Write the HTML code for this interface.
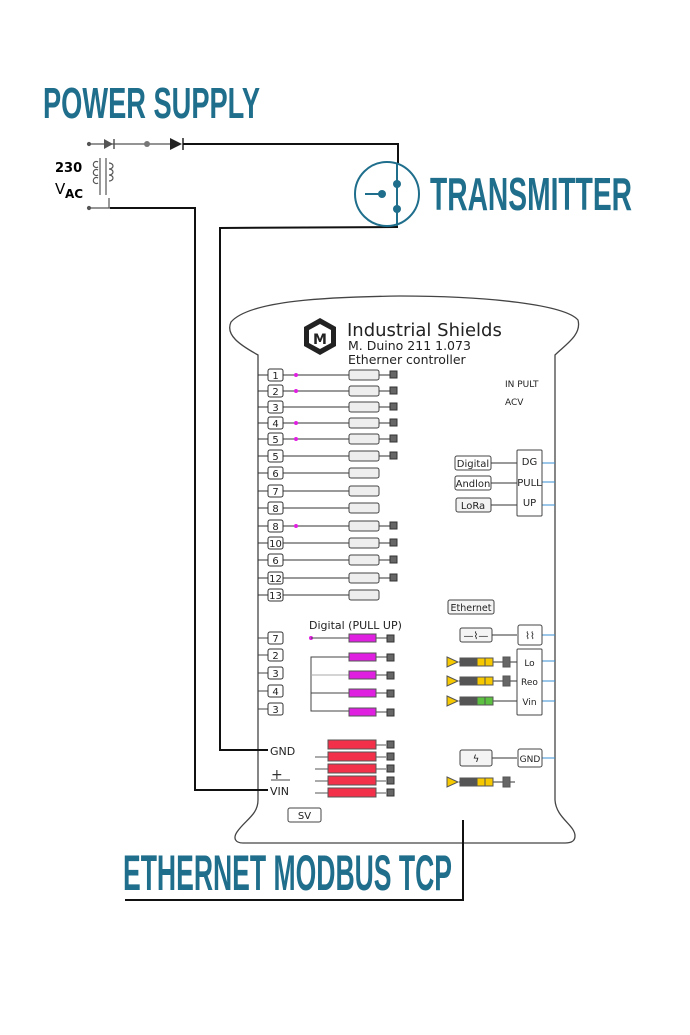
<!DOCTYPE html>
<html><head><meta charset="utf-8"><style>
html,body{margin:0;padding:0;background:#fff}
svg{display:block}
text{font-family:"DejaVu Sans","Liberation Sans",sans-serif}
.t{font-family:"Liberation Sans Narrow","Liberation Sans",sans-serif;font-weight:bold;fill:#1f6e8c}
</style></head><body>
<svg width="690" height="1035" viewBox="0 0 690 1035" xmlns="http://www.w3.org/2000/svg">
<rect width="690" height="1035" fill="#fff"/>
<text class="t" x="43" y="118" font-size="44" textLength="217" lengthAdjust="spacingAndGlyphs">POWER SUPPLY</text>
<text class="t" x="430" y="210" font-size="46" textLength="202" lengthAdjust="spacingAndGlyphs">TRANSMITTER</text>
<text class="t" x="123" y="890" font-size="50" textLength="329" lengthAdjust="spacingAndGlyphs">ETHERNET MODBUS TCP</text>

<!-- body -->
<path d="M258 355 C240 345 225 335 231 322 C250 300 330 297 400 296 C490 296 565 305 578 320 C582 335 565 345 555 355 L555 800 C556 818 575 825 575 836 C575 842 570 843 565 843 L243 843 C235 843 233 838 237 832 C245 820 258 815 258 800 Z" fill="#fff" stroke="#444" stroke-width="1.3"/>

<!-- power supply -->
<g stroke="#555" fill="none" stroke-width="1.2">
<line x1="89" y1="144" x2="170" y2="144"/>
<circle cx="89" cy="144" r="1.5" fill="#555"/>
<circle cx="89" cy="208" r="1.5" fill="#555"/>
<line x1="89" y1="208" x2="110" y2="208"/>
<line x1="109" y1="198" x2="109" y2="208"/>
<line x1="100" y1="158" x2="100" y2="195"/><line x1="106" y1="158" x2="106" y2="195"/>
<path d="M98 167 a3 3 0 1 1 0-5 M98 175 a3 3 0 1 1 0-5 M98 183 a3 3 0 1 1 0-5"/>
<path d="M109 163 a4 3 0 1 1 0 6 a4 3 0 1 1 0 6 a4 3 0 1 1 0 6"/>
</g>
<polygon points="104,139 113,144 104,149" fill="#555"/><line x1="114" y1="139" x2="114" y2="149" stroke="#555" stroke-width="1.5"/>
<circle cx="147" cy="144" r="3" fill="#777"/>
<polygon points="170,138 182,144 170,150" fill="#222"/><line x1="183" y1="138" x2="183" y2="150" stroke="#222" stroke-width="1.5"/>
<text x="55" y="172" font-size="13" font-weight="bold" font-family="Liberation Sans">230</text>
<text x="55" y="194" font-size="15" font-family="Liberation Sans">V</text><text x="65" y="198" font-size="12" font-family="Liberation Sans" font-weight="bold">AC</text>

<g stroke="#111" fill="none" stroke-width="2">
<polyline points="183,144 398,144 398,163"/>
<polyline points="398,227 220,228 220,750 268,750"/>
<polyline points="110,208 195,208 195,790 268,790"/>
<polyline points="125,900 463,900 463,820"/>
</g>
<!-- transmitter -->
<circle cx="387" cy="194" r="32" fill="#fff" stroke="#1f6e8c" stroke-width="2"/>
<line x1="397" y1="163" x2="397" y2="226" stroke="#1f6e8c" stroke-width="2"/>
<circle cx="397" cy="184" r="4" fill="#1f6e8c"/><circle cx="397" cy="209" r="4" fill="#1f6e8c"/>
<line x1="365" y1="194" x2="382" y2="194" stroke="#1f6e8c" stroke-width="2"/><circle cx="382" cy="194" r="4" fill="#1f6e8c"/>

<!-- logo -->
<polygon points="320,318 336,327 336,346 320,355 304,346 304,327" fill="#222"/>
<polygon points="320,324 331,330 331,343 320,349 309,343 309,330" fill="#fff"/>
<text x="320" y="344" font-size="14" font-weight="bold" text-anchor="middle" fill="#222">M</text>
<text x="347" y="336" font-size="18" fill="#222">Industrial Shields</text>
<text x="348" y="350" font-size="12.5" fill="#222">M. Duino 211 1.073</text>
<text x="348" y="364" font-size="12.5" fill="#222">Etherner controller</text>
<text x="505" y="387" font-size="9" fill="#222">IN PULT</text>
<text x="505" y="405" font-size="9" fill="#222">ACV</text>

<g font-size="10" fill="#222" text-anchor="middle" stroke-width="1">
<g stroke="#333">
<line x1="258" y1="375" x2="349" y2="375"/><line x1="258" y1="391" x2="349" y2="391"/><line x1="258" y1="407" x2="349" y2="407"/><line x1="258" y1="423" x2="349" y2="423"/><line x1="258" y1="439" x2="349" y2="439"/><line x1="258" y1="456" x2="349" y2="456"/><line x1="258" y1="473" x2="349" y2="473"/><line x1="258" y1="491" x2="349" y2="491"/><line x1="258" y1="508" x2="349" y2="508"/><line x1="258" y1="526" x2="349" y2="526"/><line x1="258" y1="543" x2="349" y2="543"/><line x1="258" y1="560" x2="349" y2="560"/><line x1="258" y1="578" x2="349" y2="578"/><line x1="258" y1="595" x2="349" y2="595"/>
<line x1="379" y1="375" x2="391" y2="375"/><line x1="379" y1="391" x2="391" y2="391"/><line x1="379" y1="407" x2="391" y2="407"/><line x1="379" y1="423" x2="391" y2="423"/><line x1="379" y1="439" x2="391" y2="439"/><line x1="379" y1="456" x2="391" y2="456"/><line x1="379" y1="526" x2="391" y2="526"/><line x1="379" y1="543" x2="391" y2="543"/><line x1="379" y1="560" x2="391" y2="560"/><line x1="379" y1="578" x2="391" y2="578"/>
</g>
<g fill="#fff" stroke="#333">
<rect x="268" y="369" width="15" height="12" rx="2"/><rect x="268" y="385" width="15" height="12" rx="2"/><rect x="268" y="401" width="15" height="12" rx="2"/><rect x="268" y="417" width="15" height="12" rx="2"/><rect x="268" y="433" width="15" height="12" rx="2"/><rect x="268" y="450" width="15" height="12" rx="2"/><rect x="268" y="467" width="15" height="12" rx="2"/><rect x="268" y="485" width="15" height="12" rx="2"/><rect x="268" y="502" width="15" height="12" rx="2"/><rect x="268" y="520" width="15" height="12" rx="2"/><rect x="268" y="537" width="15" height="12" rx="2"/><rect x="268" y="554" width="15" height="12" rx="2"/><rect x="268" y="572" width="15" height="12" rx="2"/><rect x="268" y="589" width="15" height="12" rx="2"/>
</g>
<g fill="#eee" stroke="#444">
<rect x="349" y="370" width="30" height="10" rx="2"/><rect x="349" y="386" width="30" height="10" rx="2"/><rect x="349" y="402" width="30" height="10" rx="2"/><rect x="349" y="418" width="30" height="10" rx="2"/><rect x="349" y="434" width="30" height="10" rx="2"/><rect x="349" y="451" width="30" height="10" rx="2"/><rect x="349" y="468" width="30" height="10" rx="2"/><rect x="349" y="486" width="30" height="10" rx="2"/><rect x="349" y="503" width="30" height="10" rx="2"/><rect x="349" y="521" width="30" height="10" rx="2"/><rect x="349" y="538" width="30" height="10" rx="2"/><rect x="349" y="555" width="30" height="10" rx="2"/><rect x="349" y="573" width="30" height="10" rx="2"/><rect x="349" y="590" width="30" height="10" rx="2"/>
</g>
<g fill="#666" stroke="#333">
<rect x="390" y="371" width="7" height="7"/><rect x="390" y="387" width="7" height="7"/><rect x="390" y="403" width="7" height="7"/><rect x="390" y="419" width="7" height="7"/><rect x="390" y="435" width="7" height="7"/><rect x="390" y="452" width="7" height="7"/><rect x="390" y="522" width="7" height="7"/><rect x="390" y="539" width="7" height="7"/><rect x="390" y="556" width="7" height="7"/><rect x="390" y="574" width="7" height="7"/>
</g>
<g fill="#e020e0"><circle cx="296" cy="375" r="2"/><circle cx="296" cy="391" r="2"/><circle cx="296" cy="423" r="2"/><circle cx="296" cy="439" r="2"/><circle cx="296" cy="526" r="2"/><circle cx="311" cy="638" r="2"/></g>
<text x="275.5" y="379">1</text><text x="275.5" y="395">2</text><text x="275.5" y="411">3</text><text x="275.5" y="427">4</text><text x="275.5" y="443">5</text><text x="275.5" y="460">5</text><text x="275.5" y="477">6</text><text x="275.5" y="495">7</text><text x="275.5" y="512">8</text><text x="275.5" y="530">8</text><text x="275.5" y="547">10</text><text x="275.5" y="564">6</text><text x="275.5" y="582">12</text><text x="275.5" y="599">13</text>
</g>

<!-- digital pull up -->
<text x="309" y="629" font-size="11" fill="#222">Digital (PULL UP)</text>
<g stroke="#444" fill="none">
<line x1="258" y1="638" x2="268" y2="638"/><line x1="258" y1="655" x2="268" y2="655"/><line x1="258" y1="673" x2="268" y2="673"/><line x1="258" y1="691" x2="268" y2="691"/><line x1="258" y1="709" x2="268" y2="709"/>
<line x1="311" y1="638" x2="349" y2="638"/>
<polyline points="349,657 311,657 311,711 349,711"/><line x1="311" y1="693" x2="349" y2="693"/><line x1="311" y1="675" x2="349" y2="675" stroke="#aaa"/>
<line x1="376" y1="638" x2="388" y2="638"/><line x1="376" y1="657" x2="388" y2="657"/><line x1="376" y1="675" x2="388" y2="675"/><line x1="376" y1="693" x2="388" y2="693"/><line x1="376" y1="712" x2="388" y2="712"/>
</g>
<g fill="#fff" stroke="#333"><rect x="268" y="632" width="15" height="12" rx="2"/><rect x="268" y="649" width="15" height="12" rx="2"/><rect x="268" y="667" width="15" height="12" rx="2"/><rect x="268" y="685" width="15" height="12" rx="2"/><rect x="268" y="703" width="15" height="12" rx="2"/></g>
<g font-size="10" text-anchor="middle" fill="#222"><text x="275.5" y="642">7</text><text x="275.5" y="659">2</text><text x="275.5" y="677">3</text><text x="275.5" y="695">4</text><text x="275.5" y="713">3</text></g>
<g fill="#e020e0" stroke="#555"><rect x="349" y="634" width="27" height="8"/><rect x="349" y="653" width="27" height="8"/><rect x="349" y="671" width="27" height="8"/><rect x="349" y="689" width="27" height="8"/><rect x="349" y="708" width="27" height="8"/></g>
<g fill="#666" stroke="#333"><rect x="387" y="635" width="7" height="7"/><rect x="387" y="654" width="7" height="7"/><rect x="387" y="672" width="7" height="7"/><rect x="387" y="690" width="7" height="7"/><rect x="387" y="709" width="7" height="7"/></g>

<!-- power -->
<text x="270" y="755" font-size="11" fill="#222">GND</text>
<text x="271" y="779" font-size="14" fill="#333">+</text><line x1="271" y1="780" x2="290" y2="780" stroke="#444"/>
<text x="270" y="795" font-size="11" fill="#222">VIN</text>
<g stroke="#555"><line x1="315" y1="757" x2="328" y2="757"/><line x1="315" y1="769" x2="328" y2="769"/><line x1="315" y1="781" x2="328" y2="781"/><line x1="315" y1="793" x2="328" y2="793"/>
<line x1="376" y1="745" x2="386" y2="745"/><line x1="376" y1="757" x2="386" y2="757"/><line x1="376" y1="769" x2="386" y2="769"/><line x1="376" y1="781" x2="386" y2="781"/><line x1="376" y1="793" x2="386" y2="793"/></g>
<g fill="#f2304a" stroke="#555"><rect x="328" y="740" width="48" height="9"/><rect x="328" y="752" width="48" height="9"/><rect x="328" y="764" width="48" height="9"/><rect x="328" y="776" width="48" height="9"/><rect x="328" y="788" width="48" height="9"/></g>
<g fill="#666" stroke="#333"><rect x="387" y="741" width="7" height="7"/><rect x="387" y="753" width="7" height="7"/><rect x="387" y="765" width="7" height="7"/><rect x="387" y="777" width="7" height="7"/><rect x="387" y="789" width="7" height="7"/></g>
<rect x="288" y="808" width="33" height="14" rx="2" fill="#fff" stroke="#444"/><text x="304.5" y="819" font-size="10" text-anchor="middle" fill="#222">SV</text>

<!-- right side -->
<g stroke="#333" fill="none">
<line x1="491" y1="463" x2="517" y2="463"/><line x1="491" y1="483" x2="517" y2="483"/><line x1="491" y1="505" x2="517" y2="505"/>
<line x1="492" y1="635" x2="517" y2="635"/><line x1="492" y1="758" x2="517" y2="758"/>
<line x1="459" y1="662" x2="517" y2="662"/><line x1="459" y1="681" x2="517" y2="681"/><line x1="459" y1="701" x2="517" y2="701"/><line x1="459" y1="782" x2="515" y2="782"/>
</g>
<g stroke="#3a8fd0"><line x1="542" y1="463" x2="555" y2="463"/><line x1="542" y1="482" x2="555" y2="482"/><line x1="542" y1="505" x2="555" y2="505"/><line x1="542" y1="635" x2="555" y2="635"/><line x1="542" y1="661" x2="555" y2="661"/><line x1="542" y1="681" x2="555" y2="681"/><line x1="542" y1="701" x2="555" y2="701"/><line x1="542" y1="758" x2="555" y2="758"/></g>
<g fill="#fff" stroke="#444">
<rect x="455" y="456" width="36" height="14" rx="2"/><rect x="455" y="476" width="36" height="14" rx="2"/><rect x="456" y="498" width="35" height="14" rx="2" fill="#f2f2f2"/>
<rect x="517" y="450" width="25" height="66" rx="1"/>
<rect x="448" y="600" width="46" height="14" rx="2" fill="#f4f4f4"/>
<rect x="460" y="628" width="32" height="14" rx="2" fill="#f4f4f4"/>
<rect x="518" y="625" width="24" height="20" rx="2"/>
<rect x="517" y="649" width="25" height="66" rx="1"/>
<rect x="460" y="750" width="32" height="16" rx="2" fill="#f4f4f4"/>
<rect x="518" y="749" width="24" height="18" rx="2"/>
</g>
<g font-size="10" fill="#222" text-anchor="middle">
<text x="473" y="467">Digital</text><text x="473" y="487">Andlon</text><text x="473" y="509">LoRa</text>
<text x="529.5" y="465">DG</text><text x="529.5" y="486">PULL</text><text x="529.5" y="506">UP</text>
<text x="471" y="611" font-size="9.5">Ethernet</text>
<text x="476" y="639">—⌇—</text><text x="530" y="639">⌇⌇</text>
<text x="529.5" y="666" font-size="9">Lo</text><text x="529.5" y="685" font-size="9">Reo</text><text x="529.5" y="705" font-size="9">Vin</text>
<text x="476" y="762">ϟ</text><text x="530" y="762" font-size="9">GND</text>
</g>
<g stroke="#555">
<polygon points="447,657 458,662 447,667" fill="#f5c800"/><rect x="460" y="658" width="17" height="8" fill="#555"/><rect x="477" y="658" width="16" height="8" fill="#f5c800"/><line x1="485" y1="658" x2="485" y2="666"/><rect x="503" y="657" width="7" height="10" fill="#666"/>
<polygon points="447,676 458,681 447,686" fill="#f5c800"/><rect x="460" y="677" width="17" height="8" fill="#555"/><rect x="477" y="677" width="16" height="8" fill="#f5c800"/><line x1="485" y1="677" x2="485" y2="685"/><rect x="503" y="676" width="7" height="10" fill="#666"/>
<polygon points="447,696 458,701 447,706" fill="#f5c800"/><rect x="460" y="697" width="17" height="8" fill="#555"/><rect x="477" y="697" width="16" height="8" fill="#5cc040"/><line x1="485" y1="697" x2="485" y2="705"/>
<polygon points="447,777 458,782 447,787" fill="#f5c800"/><rect x="460" y="778" width="17" height="8" fill="#555"/><rect x="477" y="778" width="16" height="8" fill="#f5c800"/><line x1="485" y1="778" x2="485" y2="786"/><rect x="503" y="777" width="7" height="10" fill="#666"/>
</g>
</svg>
</body></html>
